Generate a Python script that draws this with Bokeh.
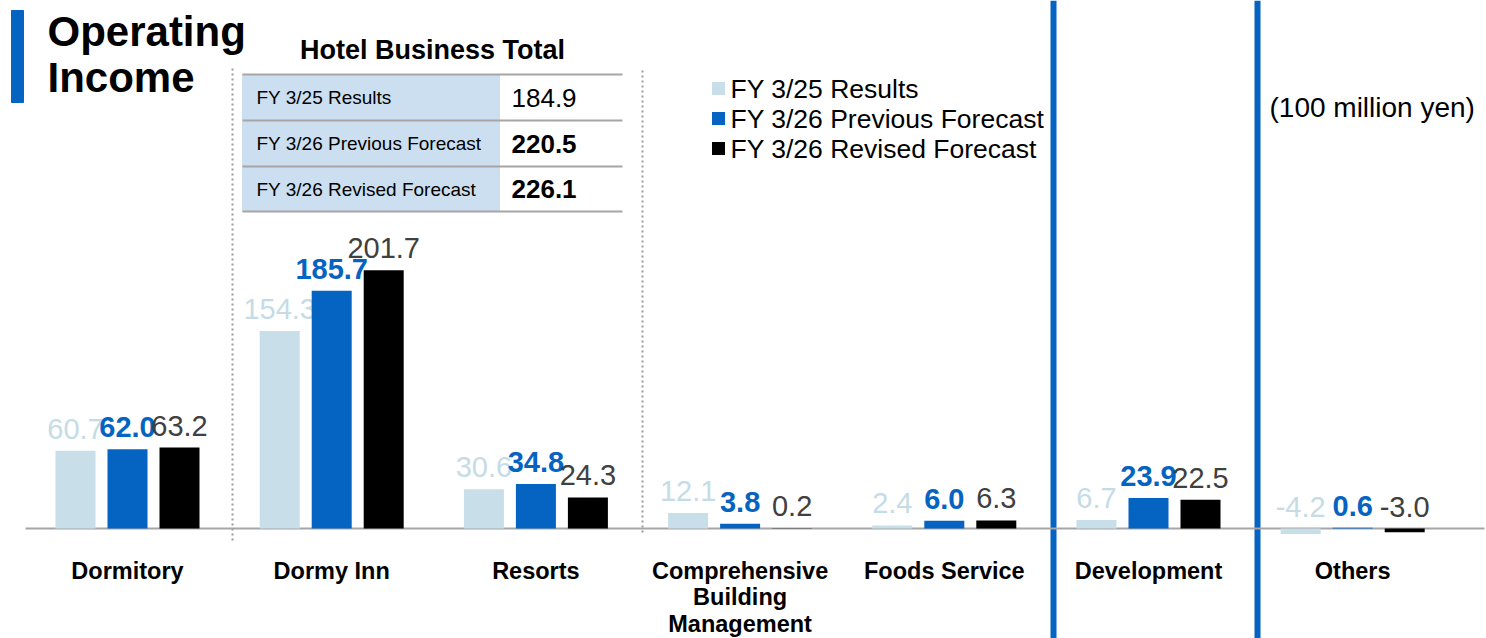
from bokeh.plotting import figure
from bokeh.models import Range1d, ColumnDataSource
from bokeh.core.properties import value
from bokeh.embed import file_html
from bokeh.resources import INLINE

# ---- data ----
categories = ["Dormitory", "Dormy Inn", "Resorts", "Comprehensive\nBuilding\nManagement",
              "Foods Service", "Development", "Others"]
series_names = ["FY 3/25 Results", "FY 3/26 Previous Forecast", "FY 3/26 Revised Forecast"]
fy25_results = [60.7, 154.3, 30.6, 12.1, 2.4, 6.7, -4.2]
fy26_previous = [62.0, 185.7, 34.8, 3.8, 6.0, 23.9, 0.6]
fy26_revised = [63.2, 201.7, 24.3, 0.2, 6.3, 22.5, -3.0]
hotel_total_labels = ["FY 3/25 Results", "FY 3/26 Previous Forecast", "FY 3/26 Revised Forecast"]
hotel_total_values = [184.9, 220.5, 226.1]
unit_label = "(100 million yen)"
title_lines = ["Operating", "Income"]
table_title = "Hotel Business Total"

# ---- style ----
FONT = value("Liberation Sans")
LIGHT = "#C8DEE8"
LIGHT_TXT = "#C5DCE6"
BLUE = "#0563C1"
BLACK = "#000000"
DARK_TXT = "#404040"
GRAY = "#A6A6A6"

W, H = 1486, 638
SPACING = 204.2
C0 = 127.0
PXS = 1.28  # px per unit
BASE = 528.0

x0 = (0 - C0) / SPACING
x1 = (W - C0) / SPACING
p = figure(width=W, height=H, output_backend="svg", toolbar_location=None,
           x_range=Range1d(x0, x1),
           y_range=Range1d(-(H - BASE) / PXS, BASE / PXS),
           min_border=0, outline_line_color=None)
p.extra_x_ranges = {"px": Range1d(0, W)}
p.extra_y_ranges = {"px": Range1d(H, 0)}
p.axis.visible = False
p.grid.visible = False
p.background_fill_color = "white"
p.border_fill_color = "white"

PX = dict(x_range_name="px", y_range_name="px")

# title
p.quad(left=[11], right=[23], top=[10], bottom=[102], color=BLUE, **PX)
p.text(x=[47, 47], y=[31, 77], text=title_lines, text_font=FONT, text_font_size="42px",
       text_font_style="bold", text_color="black", text_baseline="middle", **PX)

# separators
p.segment(x0=[232, 642], y0=[68, 70], x1=[232, 642], y1=[540, 535], line_color="#9A9A9A",
          line_width=2, line_dash="2 3", **PX)
p.segment(x0=[1053, 1257], y0=[0, 0], x1=[1053, 1257], y1=[H, H], line_color=BLUE,
          line_width=6, **PX)

# table
p.text(x=[432], y=[49], text=[table_title], text_font=FONT, text_font_size="27px",
       text_font_style="bold", text_align="center", text_baseline="middle", **PX)
row_tops = [74, 120, 166]
row_bots = [120, 166, 211]
p.quad(left=[242], right=[499], top=[74], bottom=[211], color="#CCDFF0", **PX)
p.segment(x0=[242] * 4, x1=[622] * 4, y0=[74, 120, 166, 211], y1=[74, 120, 166, 211],
          line_color=GRAY, line_width=2, **PX)
row_mid = [(a + b) / 2 for a, b in zip(row_tops, row_bots)]
p.text(x=[256] * 3, y=row_mid, text=hotel_total_labels, text_font=FONT, text_font_size="19px",
       text_baseline="middle", text_color="black", **PX)
p.text(x=[511], y=[row_mid[0]], text=[f"{hotel_total_values[0]:.1f}"], text_font=FONT,
       text_font_size="26px", text_baseline="middle", **PX)
p.text(x=[511, 511], y=row_mid[1:], text=[f"{v:.1f}" for v in hotel_total_values[1:]],
       text_font=FONT, text_font_size="26px", text_font_style="bold", text_baseline="middle", **PX)

# legend
leg_y = [88, 118, 148]
p.rect(x=[718] * 3, y=leg_y, width=13, height=13, fill_color=[LIGHT, BLUE, BLACK],
       line_color=None, **PX)
p.text(x=[730] * 3, y=leg_y, text=series_names, text_font=FONT, text_font_size="26.5px",
       text_baseline="middle", text_color="black", **PX)
p.text(x=[1269], y=[107], text=[unit_label], text_font=FONT, text_font_size="28px",
       text_baseline="middle", text_color="black", **PX)

# baseline
p.segment(x0=[25], x1=[1484], y0=[BASE], y1=[BASE], line_color=GRAY, line_width=2, **PX)

# bars
idx = list(range(len(categories)))
offsets = [-52 / SPACING, 0.0, 52 / SPACING]
bw = 40 / SPACING
colors = [LIGHT, BLUE, BLACK]
txt_colors = [LIGHT_TXT, BLUE, DARK_TXT]
styles = ["normal", "bold", "normal"]
for s, vals in enumerate([fy25_results, fy26_previous, fy26_revised]):
    xs = [i + offsets[s] for i in idx]
    src = ColumnDataSource(dict(x=xs, top=vals, ly=[max(v, 0) for v in vals],
                                lab=[f"{v:.1f}" for v in vals]))
    p.vbar(x="x", top="top", bottom=0, width=bw, source=src, fill_color=colors[s],
           line_color=None)
    p.text(x="x", y="ly", text="lab", source=src, text_font=FONT, text_font_size="29px",
           text_font_style=styles[s], text_color=txt_colors[s], text_align="center",
           text_baseline="middle", y_offset=-22)

# category labels (one text per line)
lx, ly, lt = [], [], []
for i, c in enumerate(categories):
    for k, line in enumerate(c.split("\n")):
        lx.append(i)
        ly.append(-(570 + 26.5 * k - BASE) / PXS)
        lt.append(line)
p.text(x=lx, y=ly, text=lt, text_font=FONT, text_font_size="23.5px", text_font_style="bold",
       text_align="center", text_baseline="middle", text_color="black")

open("out.html", "w").write(file_html(p, INLINE))
